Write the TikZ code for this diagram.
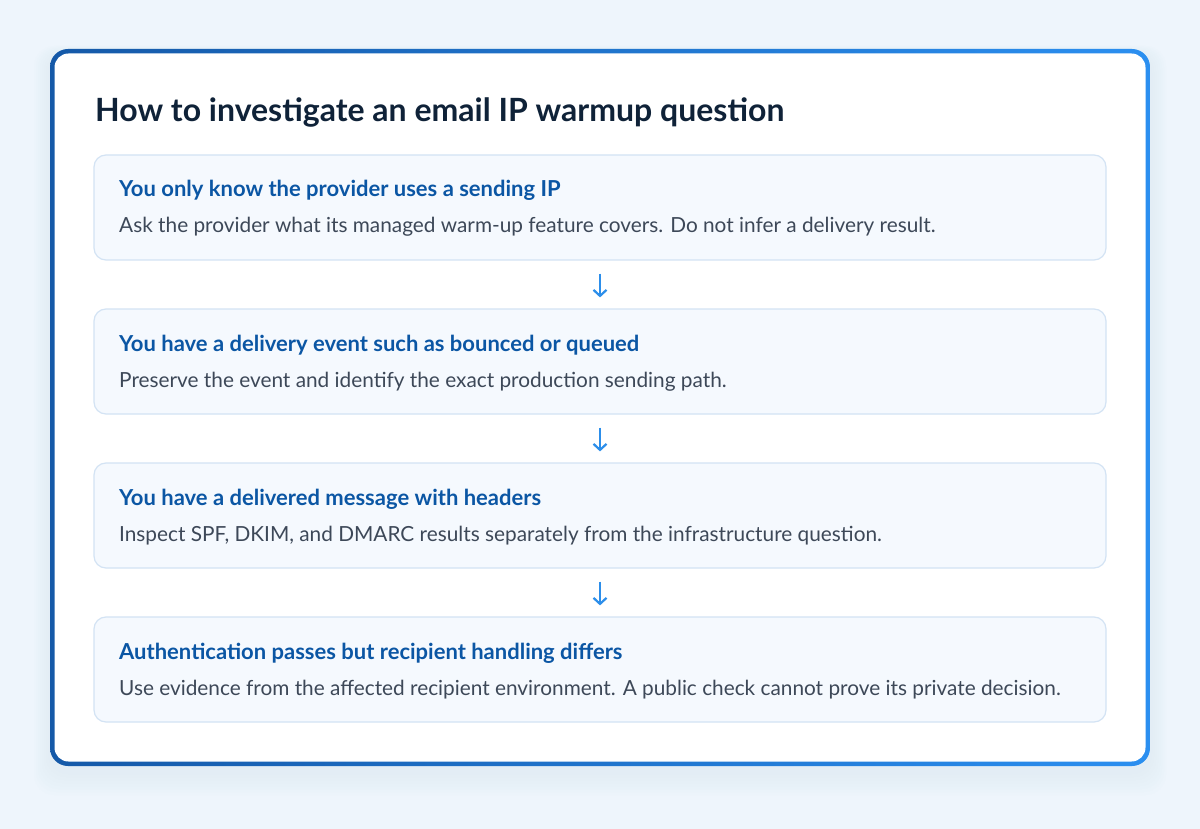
\documentclass[tikz,border=0pt]{standalone}
\usepackage{fontspec}
\setmainfont{Lato}
\usetikzlibrary{arrows.meta,positioning}
\definecolor{pagebg}{HTML}{EEF5FC}
\definecolor{glow}{HTML}{C9DFF5}
\definecolor{frameleft}{HTML}{1559A8}
\definecolor{frameright}{HTML}{2B8FF0}
\definecolor{titleink}{HTML}{0F2238}
\definecolor{headblue}{HTML}{0B56A4}
\definecolor{bodygray}{HTML}{3D4858}
\definecolor{boxfill}{HTML}{F5F9FE}
\definecolor{boxline}{HTML}{D3E3F4}
\definecolor{arrowblue}{HTML}{2C8EEA}

\begin{document}
\begin{tikzpicture}[x=1pt,y=-1pt,
    stepbox/.style={draw=boxline, fill=boxfill, line width=1.2pt,
        rounded corners=12pt, minimum width=1012pt, minimum height=105pt,
        inner sep=0pt},
    head/.style={anchor=base west, inner sep=0pt, text=headblue,
        font=\fontsize{22}{26}\selectfont\bfseries},
    body/.style={anchor=base west, inner sep=0pt, text=bodygray,
        font=\fontsize{20.8}{25}\selectfont},
    flow/.style={draw=arrowblue, line width=2.2pt,
        -{Straight Barb[length=6pt,width=13pt]},
        shorten <=13pt, shorten >=11pt}]

    % page and card
    \fill[pagebg] (0,0) rectangle (1200,829);
    \useasboundingbox (0,0) rectangle (1200,829);
    \foreach \i in {1,...,8}
        \fill[glow, opacity=0.03, rounded corners=20pt]
            (50-2*\i,54-\i) rectangle (1150+2*\i,771+3*\i);
    \shade[left color=frameleft, right color=frameright, rounded corners=18pt]
        (50,49) rectangle (1150,766);
    \fill[white, rounded corners=14pt] (54.5,53.5) rectangle (1145.5,761.5);

    \node[anchor=base west, inner sep=0pt, text=titleink,
        font=\fontsize{32}{38}\selectfont\bfseries] (title) at (95,122)
        {How to investigate an email IP warmup question};

    % steps
    \node[stepbox] (s1) at (600,207.5) {};
    \node[head] (s1h) at (119,197) {You only know the provider uses a sending IP};
    \node[body] (s1b) at (119,233) {Ask the provider what its managed warm-up feature covers. Do not infer a delivery result.};

    \node[stepbox] (s2) at (600,361.5) {};
    \node[head] (s2h) at (119,351) {You have a delivery event such as bounced or queued};
    \node[body] (s2b) at (119,387) {Preserve the event and identify the exact production sending path.};

    \node[stepbox] (s3) at (600,515.5) {};
    \node[head] (s3h) at (119,505) {You have a delivered message with headers};
    \node[body] (s3b) at (119,541) {Inspect SPF, DKIM, and DMARC results separately from the infrastructure question.};

    \node[stepbox] (s4) at (600,669.5) {};
    \node[head] (s4h) at (119,659) {Authentication passes but recipient handling differs};
    \node[body] (s4b) at (119,695) {Use evidence from the affected recipient environment. A public check cannot prove its private decision.};

    \draw[flow] (s1) -- (s2);
    \draw[flow] (s2) -- (s3);
    \draw[flow] (s3) -- (s4);

\end{tikzpicture}
\end{document}
